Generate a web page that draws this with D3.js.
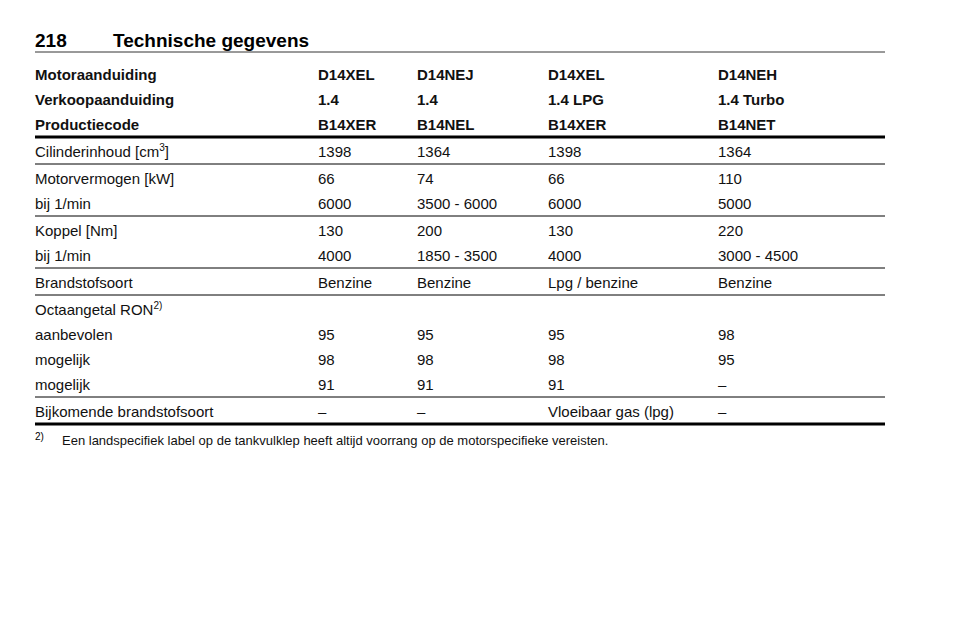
<!DOCTYPE html>
<html><head><meta charset="utf-8">
<script src="https://cdn.jsdelivr.net/npm/d3@7"></script>
<style>body{margin:0;background:#fff}</style>
</head><body><svg id="c" width="960" height="642"></svg>
<script>
const pageNumber = "218";
const pageTitle = "Technische gegevens";
const headerRows = [
  ["Motoraanduiding","D14XEL","D14NEJ","D14XEL","D14NEH"],
  ["Verkoopaanduiding","1.4","1.4","1.4 LPG","1.4 Turbo"],
  ["Productiecode","B14XER","B14NEL","B14XER","B14NET"]
];
const groups = [
  [["Cilinderinhoud [cm³]","1398","1364","1398","1364"]],
  [["Motorvermogen [kW]","66","74","66","110"],["bij 1/min","6000","3500 - 6000","6000","5000"]],
  [["Koppel [Nm]","130","200","130","220"],["bij 1/min","4000","1850 - 3500","4000","3000 - 4500"]],
  [["Brandstofsoort","Benzine","Benzine","Lpg / benzine","Benzine"]],
  [["Octaangetal RON²⁾","","","",""],["aanbevolen","95","95","95","98"],["mogelijk","98","98","98","95"],["mogelijk","91","91","91","–"]],
  [["Bijkomende brandstofsoort","–","–","Vloeibaar gas (lpg)","–"]]
];
const footnoteMark = "2)";
const footnote = "Een landspecifiek label op de tankvulklep heeft altijd voorrang op de motorspecifieke vereisten.";

const svg = d3.select("#c");
const F = "Liberation Sans, Arial, sans-serif";
const colX = d3.scaleOrdinal().domain([0,1,2,3,4]).range([35,318,417,548,718]);
const L = 35, R = 885, rowH = 25;

svg.append("text").attr("x",L).attr("y",47).attr("font-family",F).attr("font-size",19).attr("font-weight","bold").text(pageNumber);
svg.append("text").attr("x",113).attr("y",47).attr("font-family",F).attr("font-size",19).attr("font-weight","bold").text(pageTitle);
svg.append("line").attr("x1",L).attr("x2",R).attr("y1",52).attr("y2",52).attr("stroke","#000").attr("stroke-width",0.8);

function cell(txt, i, y, bold){
  const t = svg.append("text").attr("x",colX(i)).attr("y",y).attr("font-family",F).attr("font-size",15).attr("font-weight",bold?"bold":"normal").attr("fill","#111");
  if (txt.includes("cm³")) {
    t.append("tspan").text("Cilinderinhoud [cm");
    t.append("tspan").attr("font-size",10).attr("dy",-6).text("3");
    t.append("tspan").attr("dy",6).text("]");
  } else if (txt.includes("²⁾")) {
    t.append("tspan").text("Octaangetal RON");
    t.append("tspan").attr("font-size",10).attr("dy",-6).text("2)");
  } else t.text(txt);
}
let y = 80;
headerRows.forEach((r,ri)=>{ r.forEach((c,i)=>cell(c,i,y,true)); if(ri<headerRows.length-1) y+=rowH; });
let lineY = y + 7;
svg.append("line").attr("x1",L).attr("x2",R).attr("y1",lineY).attr("y2",lineY).attr("stroke","#000").attr("stroke-width",3);
groups.forEach((g,gi)=>{
  y = lineY + 20;
  g.forEach((r,ri)=>{ r.forEach((c,i)=>cell(c,i,y,false)); if(ri<g.length-1) y+=rowH; });
  lineY = y + 7;
  const last = gi===groups.length-1;
  svg.append("line").attr("x1",L).attr("x2",R).attr("y1",lineY).attr("y2",lineY).attr("stroke","#000").attr("stroke-width",last?3:1);
});
svg.append("text").attr("x",L).attr("y",440).attr("font-family",F).attr("font-size",10).text(footnoteMark);
svg.append("text").attr("x",62).attr("y",445).attr("font-family",F).attr("font-size",13).attr("fill","#111").text(footnote);
</script></body></html>
